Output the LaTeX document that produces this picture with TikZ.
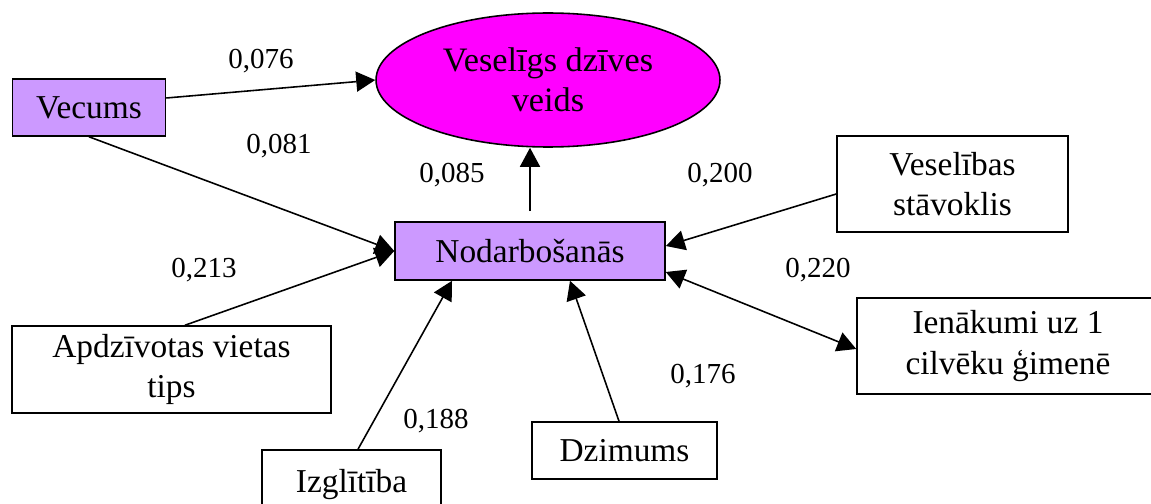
\documentclass[tikz,border=0pt]{standalone}
\usepackage{fontspec}
\setmainfont{Liberation Serif}
\usetikzlibrary{arrows.meta,shapes.geometric}

\definecolor{lavender}{HTML}{CC99FF}
\definecolor{magentafill}{HTML}{FF00FF}

\tikzset{
  factor/.style={draw, line width=0.9pt, align=center, inner sep=0pt,
    font=\fontsize{19}{23}\selectfont},
  mainbox/.style={factor, fill=lavender},
  coef/.style={font=\fontsize{16.5}{19}\selectfont},
  tip/.tip={Triangle[length=0.38cm,width=0.4cm]},
  link/.style={line width=0.9pt, -tip}
}

\begin{document}
\begin{tikzpicture}[x=0.02cm, y=-0.02cm]

% Picture frame
\useasboundingbox (0,0) rectangle (1151,503);

% Define nodes
\node[ellipse, draw, line width=0.9pt, fill=magentafill, inner sep=0pt,
  minimum width=6.88cm, minimum height=2.68cm, align=center,
  font=\fontsize{19.5}{23}\selectfont] (veids) at (548, 80) {Veselīgs dzīves\\veids};
\node[mainbox, minimum width=3.06cm, minimum height=1.14cm] (vecums) at (89, 107.5) {Vecums};
\node[mainbox, minimum width=5.4cm, minimum height=1.16cm] (nodarb) at (530, 251) {Nodarbošanās};
\node[factor, minimum width=4.62cm, minimum height=1.92cm] (stavoklis) at (952.5, 184) {Veselības\\stāvoklis};
\node[factor, minimum width=6.04cm, minimum height=1.92cm] (ienakumi) at (1008, 346) {Ienākumi uz 1\\cilvēku ģimenē};
\node[factor, minimum width=6.38cm, minimum height=1.74cm] (vieta) at (171.5, 369.5) {Apdzīvotas vietas\\tips};
\node[factor, minimum width=3.58cm, minimum height=1.4cm] (izglitiba) at (351.5, 485) {Izglītība};
\node[factor, minimum width=3.7cm, minimum height=1.14cm] (dzimums) at (624.5, 450.5) {Dzimums};

% Draw the connectors
\draw[link] ([yshift=0.19cm]vecums.east) -- (veids.west);
\draw[link] (vecums.south) -- (nodarb.west);
\draw[link] ([xshift=0.27cm]vieta.north) -- (nodarb.west);
\draw[link] ([yshift=0.2cm]nodarb.north) -- (veids.south -| nodarb.north);
\draw[link] ([yshift=-0.2cm]stavoklis.west) -- ([yshift=0.1cm]nodarb.east);
\draw[link, tip-tip] ([yshift=-0.42cm]nodarb.east) -- ([yshift=-0.06cm]ienakumi.west);
\draw[link] ([xshift=0.13cm]izglitiba.north) -- ([xshift=-1.56cm]nodarb.south);
\draw[link] ([xshift=-0.11cm]dzimums.north) -- ([xshift=0.8cm]nodarb.south);

% Path coefficients
\node[coef] (c076) at (261, 61) {0,076};
\node[coef] (c081) at (279, 146) {0,081};
\node[coef] (c085) at (452, 175) {0,085};
\node[coef] (c200) at (720, 175) {0,200};
\node[coef] (c213) at (204, 270) {0,213};
\node[coef] (c220) at (818, 270) {0,220};
\node[coef] (c176) at (703, 376) {0,176};
\node[coef] (c188) at (436, 421) {0,188};

\end{tikzpicture}
\end{document}
